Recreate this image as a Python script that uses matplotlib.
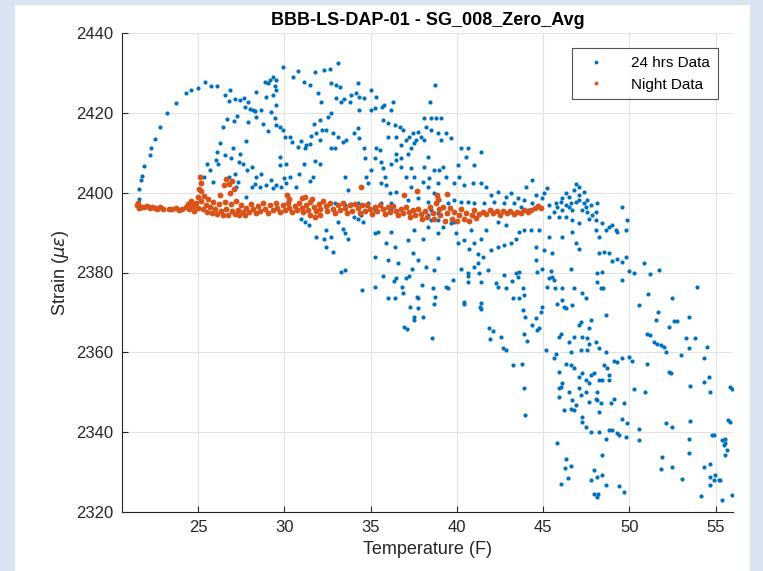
import matplotlib.pyplot as plt
import matplotlib.patches as patches
import numpy as np

plt.rcParams['font.family'] = ['Liberation Sans', 'DejaVu Sans']

# 24 hrs data (temperature F, strain)
day_arc = [
    (21.6, 2398.5), (21.6, 2400.8), (21.7, 2403.2), (21.75, 2404.2), (21.9, 2406.7), (22.2, 2409.4),
    (22.3, 2411.3), (22.5, 2413.4), (22.8, 2416.5), (23.2, 2420.0), (23.7, 2422.4), (24.3, 2424.9),
    (24.6, 2425.7), (25.0, 2426.1), (25.4, 2427.6), (25.75, 2426.8), (26.1, 2426.8),
]
day_upper_left = [
    (26.58, 2424.5), (26.85, 2425.7), (26.81, 2423.0), (27.14, 2423.4), (27.43, 2423.2), (27.66, 2423.6),
    (27.91, 2422.8), (27.72, 2421.4), (28.04, 2420.9), (28.29, 2420.5), (28.68, 2420.7), (28.39, 2418.9),
    (28.78, 2417.2), (29.06, 2415.5), (27.27, 2419.2), (27.08, 2418.0), (26.66, 2418.4), (26.46, 2416.5),
    (26.27, 2412.5), (26.08, 2410.3), (26.04, 2408.2), (25.54, 2407.3), (25.69, 2405.7), (25.35, 2404.0),
    (25.85, 2402.7), (26.19, 2407.3), (26.56, 2409.4), (26.94, 2408.6), (27.04, 2411.1), (27.39, 2407.8),
    (27.46, 2409.8), (27.62, 2407.3), (27.77, 2413.0), (27.85, 2405.8), (28.16, 2406.5), (28.39, 2404.0),
    (28.66, 2404.7), (28.62, 2401.5), (28.97, 2401.9), (29.26, 2403.2), (29.35, 2401.1), (29.55, 2401.9),
    (29.83, 2401.5), (29.97, 2403.6), (30.12, 2402.3), (29.78, 2406.9), (29.74, 2409.0), (30.09, 2407.3),
    (30.32, 2404.0), (30.70, 2401.5), (30.86, 2404.8), (31.13, 2407.3), (31.20, 2411.3), (31.47, 2412.3),
    (31.76, 2408.0), (31.67, 2404.0), (31.51, 2403.0), (32.05, 2407.3), (32.05, 2413.2), (32.20, 2415.7),
    (31.86, 2414.9), (31.72, 2417.2), (32.05, 2418.2), (32.15, 2422.8), (31.97, 2424.9), (32.28, 2430.7),
    (31.78, 2430.3), (31.47, 2427.0), (31.15, 2427.8), (30.82, 2430.6), (30.51, 2428.9), (29.93, 2431.4),
    (29.51, 2428.2), (29.35, 2429.1), (29.2, 2428.2), (28.87, 2427.8), (29.06, 2427.4), (29.45, 2426.6),
    (29.55, 2425.7), (29.35, 2424.5), (29.51, 2422.0), (29.26, 2420.3), (29.49, 2418.6), (29.55, 2416.9),
    (29.74, 2416.5), (29.93, 2415.7), (30.05, 2414.0), (30.32, 2414.0), (30.47, 2412.8), (30.80, 2411.5),
    (30.99, 2413.0), (31.28, 2411.9), (31.57, 2414.2), (28.39, 2425.3), (28.97, 2424.0), (28.2, 2420.7),
    (27.91, 2417.8), (27.2, 2401.5), (27.33, 2402.7), (26.81, 2404.0), (27.14, 2404.8), (27.81, 2399.0),
    (28.16, 2401.5), (28.29, 2402.1), (30.99, 2393.5), (31.18, 2392.7), (31.43, 2391.9), (31.86, 2389.0),
    (32.28, 2388.5),
]
day_upper_mid = [
    (33.11, 2432.6), (32.63, 2430.9), (32.69, 2427.4), (33.01, 2427.0), (33.21, 2426.5), (33.01, 2423.6),
    (33.30, 2422.8), (33.46, 2423.4), (33.79, 2422.8), (33.88, 2424.5), (34.17, 2424.9), (34.27, 2427.4),
    (34.32, 2424.0), (34.61, 2423.6), (34.36, 2420.7), (32.73, 2419.9), (32.53, 2419.0), (32.44, 2415.7),
    (32.82, 2414.9), (33.11, 2414.0), (33.40, 2412.8), (33.59, 2413.2), (32.73, 2411.1), (32.92, 2411.1),
    (34.07, 2414.9), (34.27, 2416.1), (34.36, 2413.6), (34.61, 2411.1), (34.65, 2408.6), (35.04, 2425.7),
    (35.33, 2424.0), (35.04, 2420.7), (35.23, 2421.1), (35.65, 2421.5), (35.77, 2422.0), (36.29, 2422.8),
    (36.19, 2420.7), (35.71, 2418.2), (36.0, 2417.4), (36.39, 2416.9), (36.68, 2416.5), (36.87, 2415.7),
    (36.0, 2414.0), (36.48, 2414.0), (36.77, 2411.9), (37.06, 2413.2), (37.25, 2414.0), (37.45, 2414.9),
    (37.64, 2413.2), (37.35, 2411.1), (37.16, 2409.8), (37.74, 2415.3), (37.93, 2414.0), (38.12, 2413.2),
    (37.54, 2412.4), (38.12, 2418.6), (38.51, 2418.6), (38.79, 2418.6), (39.08, 2418.6), (38.47, 2422.8),
    (38.74, 2427.0), (38.22, 2416.5), (38.51, 2415.7), (38.89, 2414.9), (39.08, 2413.2), (39.37, 2414.9),
    (39.66, 2413.6), (35.33, 2411.1), (35.23, 2408.6), (35.52, 2410.7), (35.62, 2407.8), (35.71, 2406.1),
    (35.81, 2404.0), (36.19, 2407.3), (36.48, 2409.8), (36.48, 2408.2), (36.77, 2408.6), (36.77, 2406.5),
    (37.35, 2406.1), (37.06, 2404.0), (37.54, 2404.0), (38.12, 2406.5), (38.31, 2409.0), (38.41, 2403.6),
    (38.7, 2405.7), (38.99, 2405.7), (39.18, 2406.5), (39.37, 2404.0), (38.89, 2402.3), (38.02, 2402.7),
    (37.35, 2401.5), (38.31, 2401.5), (38.7, 2399.8), (33.50, 2404.0), (33.69, 2400.6), (34.75, 2404.0),
    (34.84, 2402.3), (35.04, 2405.7), (35.62, 2402.3), (35.9, 2401.9), (36.10, 2399.8), (36.48, 2400.2),
    (40.24, 2411.1), (40.63, 2411.1), (41.40, 2410.2), (40.53, 2409.0), (41.01, 2406.9), (40.05, 2406.9),
    (40.14, 2404.0), (39.85, 2402.3), (40.43, 2401.9), (40.91, 2402.3), (41.40, 2402.3), (41.69, 2401.5),
    (41.97, 2399.4), (42.36, 2400.2), (42.84, 2399.0), (43.13, 2399.8), (43.52, 2398.6), (44.0, 2401.5),
    (44.38, 2403.2),
]
day_band = [
    (43.90, 2398.2), (43.71, 2396.5), (43.32, 2397.3), (42.74, 2397.3), (42.17, 2397.7), (41.59, 2397.3),
    (41.01, 2397.3), (40.63, 2397.7), (40.24, 2397.7), (39.85, 2398.2), (39.47, 2397.3), (38.99, 2398.2),
    (38.31, 2397.7), (37.74, 2398.6), (37.16, 2398.2), (36.19, 2397.3), (35.62, 2397.3), (34.84, 2397.3),
    (34.27, 2397.3), (33.88, 2397.1), (33.50, 2396.9), (32.92, 2397.3), (32.53, 2396.9), (38.51, 2395.6),
    (38.89, 2394.8), (38.31, 2394.4), (34.07, 2394.0), (34.46, 2394.4), (35.23, 2395.6), (36.19, 2395.6),
    (41.97, 2395.6), (43.13, 2395.2), (44.1, 2395.6),
]
day_below_band = [
    (34.27, 2393.5), (34.56, 2392.7), (33.11, 2392.7), (33.40, 2391.0), (33.50, 2389.8), (33.69, 2388.5),
    (32.44, 2390.6), (32.73, 2389.0), (35.23, 2389.8), (35.42, 2390.2), (36.19, 2390.2), (35.90, 2387.3),
    (36.39, 2386.4), (37.16, 2388.1), (37.54, 2390.6), (38.02, 2388.5), (38.31, 2391.5), (38.89, 2389.8),
    (39.18, 2391.5), (39.66, 2392.3), (39.95, 2389.8), (40.05, 2387.3), (40.43, 2388.1), (40.72, 2386.0),
    (41.01, 2387.3), (41.2, 2384.7), (41.49, 2383.9), (41.97, 2385.6), (42.36, 2386.4), (42.74, 2386.9),
    (43.13, 2387.3), (43.42, 2388.5), (43.61, 2390.2), (43.90, 2390.6), (42.84, 2391.9), (42.36, 2392.7),
    (41.69, 2390.6), (40.82, 2390.6), (41.40, 2388.5), (38.51, 2393.1), (38.89, 2393.1), (39.85, 2392.7),
    (37.45, 2384.8), (37.74, 2383.1), (32.82, 2385.2), (32.44, 2386.4), (35.23, 2383.9), (36.0, 2383.1),
    (33.50, 2380.6),
]
day_hump = [
    (45.25, 2401.1), (45.06, 2399.8), (44.96, 2398.6), (44.58, 2399.4), (44.38, 2397.3), (44.67, 2396.5),
    (45.35, 2396.9), (45.73, 2397.3), (46.12, 2398.6), (46.31, 2399.8), (46.50, 2399.0), (46.60, 2397.3),
    (46.89, 2397.7), (47.08, 2398.2), (46.89, 2402.2), (47.08, 2401.5), (47.37, 2397.3), (47.56, 2398.2),
    (47.27, 2395.6), (47.56, 2395.2), (47.85, 2394.4), (47.66, 2393.5), (48.04, 2393.1), (48.43, 2392.3),
    (48.81, 2391.5), (49.2, 2390.6), (49.58, 2396.5), (49.87, 2393.1), (49.78, 2390.6), (46.12, 2395.6),
    (45.64, 2395.2), (45.35, 2393.9), (45.92, 2393.9), (46.31, 2393.9), (46.69, 2393.1), (47.08, 2392.3),
    (48.04, 2390.6), (48.24, 2389.0), (48.62, 2390.6), (49.01, 2391.9), (49.30, 2390.2), (46.69, 2390.2),
    (46.12, 2389.0), (45.35, 2389.0), (45.06, 2385.6), (44.58, 2386.4), (45.54, 2384.8), (46.89, 2387.3),
    (47.08, 2386.0), (48.24, 2384.8), (48.53, 2385.2), (48.81, 2384.8), (49.78, 2383.9), (44.29, 2390.6),
    (44.77, 2390.6), (46.50, 2396.5), (45.83, 2396.5), (48.04, 2395.2), (48.14, 2397.3), (46.02, 2397.7),
    (46.31, 2396.9), (46.69, 2395.6), (47.47, 2396.5), (47.75, 2396.9), (47.08, 2399.4), (46.79, 2400.6),
    (47.37, 2400.2),
]
day_lower_mid = [
    (33.30, 2380.2), (34.50, 2375.7), (35.23, 2376.4), (35.71, 2379.0), (36.0, 2373.5), (36.39, 2373.7),
    (36.35, 2377.8), (36.48, 2378.5), (36.58, 2382.3), (36.81, 2376.4), (36.87, 2374.8), (36.96, 2366.4),
    (37.12, 2365.8), (37.06, 2378.5), (37.25, 2379.2), (37.39, 2381.0), (37.31, 2371.4), (37.54, 2368.9),
    (37.54, 2368.2), (37.74, 2371.0), (37.70, 2373.9), (37.77, 2373.5), (37.99, 2376.8), (38.02, 2368.9),
    (38.22, 2381.4), (38.54, 2363.5), (38.60, 2376.2), (38.70, 2380.6), (38.74, 2373.9), (38.70, 2372.0),
    (38.93, 2383.7), (39.37, 2376.4), (39.47, 2376.2), (39.76, 2378.1), (40.24, 2381.0), (40.39, 2372.0),
    (40.43, 2372.5), (40.63, 2377.7), (40.63, 2379.0), (40.63, 2380.0), (41.01, 2381.4), (41.2, 2382.3),
    (41.30, 2379.8), (41.40, 2377.5), (41.36, 2371.4), (41.40, 2370.8), (41.40, 2372.3), (41.78, 2380.6),
    (41.88, 2366.0), (42.07, 2365.3), (41.92, 2363.3), (42.26, 2377.3), (42.36, 2376.4), (42.55, 2363.9),
    (42.65, 2361.1), (42.84, 2360.5), (42.74, 2379.3), (42.84, 2376.0), (43.17, 2377.8), (43.42, 2379.8),
    (43.52, 2378.9), (43.61, 2380.2), (43.61, 2373.5), (43.26, 2373.5), (43.23, 2356.8), (43.77, 2357.0),
    (43.90, 2351.1), (43.96, 2344.3), (43.84, 2370.6), (43.96, 2368.9), (43.90, 2364.7), (44.05, 2362.8),
    (43.86, 2376.0), (43.90, 2374.3),
]
day_lower_right = [
    (44.58, 2383.1), (44.67, 2380.2), (44.96, 2380.9), (45.44, 2380.4), (45.54, 2378.9), (45.35, 2378.5),
    (45.64, 2378.1), (45.25, 2376.4), (45.69, 2376.0), (46.08, 2376.0), (46.60, 2381.0), (46.79, 2376.0),
    (45.83, 2372.0), (46.12, 2373.1), (46.21, 2371.4), (46.31, 2371.0), (46.69, 2371.8), (47.27, 2374.8),
    (47.47, 2373.5), (44.96, 2371.4), (44.86, 2370.2), (44.58, 2368.5), (44.38, 2366.8), (44.77, 2366.0),
    (44.67, 2365.6), (46.02, 2364.7), (45.92, 2363.9), (46.50, 2362.6), (46.79, 2363.9), (47.08, 2366.8),
    (47.18, 2367.7), (47.75, 2368.1), (47.66, 2366.0), (47.27, 2363.9), (47.56, 2363.5), (47.66, 2362.0),
    (48.04, 2362.5), (48.24, 2361.0), (48.62, 2360.1), (48.62, 2369.3), (47.56, 2360.5), (47.18, 2360.5),
    (46.60, 2360.1), (45.73, 2359.7), (45.64, 2358.5), (45.15, 2360.5), (46.31, 2357.2), (46.60, 2356.8),
    (46.79, 2356.0), (45.92, 2355.0), (47.08, 2353.9), (47.27, 2354.7), (47.47, 2353.0), (47.66, 2352.2),
    (47.75, 2354.3), (47.95, 2354.7), (48.24, 2353.0), (48.43, 2353.0), (48.81, 2354.3), (48.81, 2353.0),
    (48.53, 2356.8), (48.72, 2356.0), (49.10, 2357.8), (46.12, 2352.2), (46.02, 2351.4), (45.92, 2351.0),
    (45.92, 2348.9), (46.50, 2350.1), (46.69, 2348.0), (46.89, 2346.8), (46.79, 2345.5), (46.60, 2345.8),
    (46.21, 2345.5), (47.08, 2351.0), (47.18, 2349.3), (47.47, 2350.1), (47.66, 2347.6), (48.04, 2348.4),
    (48.14, 2350.1), (48.14, 2348.0), (48.33, 2347.2), (48.24, 2345.1), (48.91, 2347.2), (49.10, 2348.4),
    (49.68, 2347.2), (49.58, 2343.4), (49.87, 2342.2), (47.27, 2343.9), (47.27, 2342.6), (47.47, 2341.3),
    (47.75, 2340.1), (48.24, 2340.1), (48.81, 2340.5), (49.01, 2340.5), (49.30, 2339.7), (49.39, 2339.3),
    (49.78, 2338.8), (48.62, 2338.4), (50.55, 2340.9), (50.55, 2338.0), (49.97, 2358.9), (50.16, 2357.8),
    (50.26, 2350.9), (50.93, 2350.1), (51.03, 2357.2), (52.09, 2342.2), (52.48, 2341.3), (53.53, 2342.8),
    (54.79, 2339.4), (55.37, 2338.0), (55.52, 2337.4), (55.56, 2338.4), (55.65, 2335.5), (55.56, 2334.4),
    (55.71, 2343.0), (55.81, 2342.6), (55.85, 2351.4), (55.94, 2350.9), (54.69, 2350.1), (53.53, 2351.5),
    (54.31, 2352.6), (54.60, 2353.9), (54.31, 2358.5), (54.50, 2361.4), (53.82, 2363.5), (53.25, 2363.5),
    (53.44, 2361.0), (52.96, 2359.3), (52.28, 2355.1), (52.38, 2354.7), (52.09, 2360.1), (51.99, 2361.4),
    (51.80, 2361.8), (51.61, 2362.2), (51.42, 2362.6), (51.22, 2364.3), (51.03, 2364.7), (51.51, 2368.1),
    (51.67, 2370.0), (52.28, 2366.4), (52.57, 2367.8), (52.76, 2367.8), (53.44, 2368.9), (53.92, 2376.4),
    (52.44, 2373.7), (51.09, 2374.5), (50.55, 2371.8), (49.97, 2380.4), (50.26, 2380.0), (50.84, 2382.3),
    (51.22, 2379.5), (51.70, 2380.6), (49.58, 2378.1), (49.55, 2382.7), (49.30, 2383.4), (49.01, 2382.9),
    (48.33, 2376.0), (48.47, 2376.0), (48.14, 2377.7), (48.43, 2380.2), (48.14, 2379.8), (49.30, 2357.6),
    (49.58, 2358.5), (45.79, 2337.3), (46.31, 2333.2), (46.27, 2330.9), (46.60, 2331.6), (46.46, 2328.6),
    (46.02, 2326.9), (47.95, 2330.5), (47.75, 2328.0), (48.14, 2328.8), (48.39, 2329.2), (48.39, 2334.2),
    (48.62, 2326.7), (47.95, 2324.4), (48.2, 2324.4), (48.14, 2323.8), (49.39, 2326.6), (49.68, 2324.9),
    (51.90, 2333.8), (51.80, 2330.7), (52.48, 2331.3), (53.06, 2328.2), (53.44, 2338.2), (53.44, 2334.9),
    (54.12, 2324.0), (54.31, 2331.3), (54.69, 2331.9), (54.69, 2328.8), (54.69, 2326.7), (54.88, 2328.0),
    (54.98, 2329.2), (55.17, 2328.0), (55.27, 2328.0), (55.37, 2323.0), (55.94, 2324.2), (54.88, 2339.3),
    (55.46, 2336.8),
]

# Night data
night_left = [
    (21.45, 2396.8), (21.55, 2397.3), (21.6, 2396.2), (21.75, 2396.5), (21.9, 2396.3), (22.05, 2396.6),
    (22.2, 2396.1), (22.35, 2396.4), (22.5, 2396.2), (22.65, 2396.0), (22.8, 2396.3), (22.95, 2395.9),
    (23.3, 2395.8), (23.5, 2395.9), (23.7, 2396.1), (23.9, 2395.7), (24.1, 2395.9), (24.3, 2396.3),
]
night_lumps = [
    (24.4, 2397.2), (24.5, 2396.0), (24.6, 2398.0), (24.7, 2396.6), (24.8, 2395.4), (24.9, 2397.4),
    (25.0, 2399.0), (25.0, 2396.2), (25.05, 2401.0), (25.1, 2403.9), (25.15, 2402.5), (25.2, 2400.5),
    (25.2, 2397.8), (25.3, 2395.8), (25.35, 2399.2), (25.45, 2397.0), (25.5, 2395.2), (25.6, 2398.3),
    (25.7, 2396.4), (25.8, 2394.9), (25.9, 2397.6), (26.0, 2395.8), (26.1, 2394.6), (26.2, 2397.2),
    (26.3, 2399.5), (26.35, 2395.5), (26.45, 2394.5), (26.5, 2401.8), (26.55, 2397.6), (26.6, 2403.4),
    (26.65, 2396.0), (26.75, 2394.3), (26.8, 2402.2), (26.85, 2399.8), (26.9, 2397.2), (27.0, 2403.0),
    (27.0, 2395.3), (27.1, 2400.8), (27.15, 2394.6), (27.2, 2397.8), (27.3, 2395.7), (27.4, 2394.4),
    (27.5, 2396.9), (27.6, 2395.2), (27.7, 2394.5),
]
night_mid = [
    (27.8, 2396.2), (27.95, 2395.1), (28.1, 2397.2), (28.2, 2395.8), (28.35, 2394.9), (28.5, 2396.7),
    (28.6, 2395.4), (28.75, 2397.4), (28.9, 2396.0), (29.05, 2395.0), (29.2, 2396.9), (29.35, 2395.6),
    (29.5, 2397.5), (29.6, 2396.2), (29.75, 2395.2), (29.9, 2396.8), (30.05, 2395.7), (30.2, 2397.3),
    (30.3, 2396.1), (30.45, 2395.2), (30.6, 2396.7), (30.75, 2395.6), (30.85, 2397.5), (31.0, 2398.6),
    (31.0, 2396.2), (31.1, 2395.1), (31.25, 2396.9), (31.4, 2395.7), (31.5, 2397.6), (31.6, 2398.3),
    (31.7, 2396.3), (31.85, 2395.3), (32.0, 2397.1), (32.1, 2396.0), (32.25, 2397.8), (30.15, 2399.3),
    (30.3, 2398.5), (31.2, 2398.9), (31.5, 2394.3), (31.8, 2394.0), (32.1, 2394.5),
    (32.4, 2396.6), (32.5, 2395.3), (32.65, 2397.3), (32.8, 2396.0), (32.95, 2394.9), (33.1, 2396.8),
    (33.25, 2395.6), (33.4, 2397.4), (33.5, 2396.2), (33.65, 2395.0), (33.8, 2396.8), (33.95, 2395.5),
    (34.1, 2397.2), (34.25, 2396.1), (34.4, 2394.9), (34.5, 2396.8), (34.65, 2395.5), (34.8, 2397.0),
    (34.95, 2395.9), (35.1, 2394.7), (35.25, 2396.5), (35.4, 2395.3), (35.55, 2396.9), (35.7, 2395.8),
    (35.85, 2394.6), (36.0, 2396.4), (36.15, 2395.1), (36.3, 2396.7), (36.45, 2395.4), (36.6, 2394.3),
    (36.75, 2396.0), (36.9, 2394.8), (37.05, 2396.3), (37.2, 2395.1), (37.3, 2393.9), (37.45, 2395.7),
    (37.6, 2394.4), (37.75, 2396.0), (37.9, 2394.7), (38.0, 2393.5),
]
night_right = [
    (38.15, 2395.4), (38.3, 2394.0), (38.45, 2396.5), (38.6, 2395.0), (38.7, 2393.4), (38.8, 2397.5),
    (38.85, 2399.5), (38.9, 2398.3), (38.95, 2395.8), (39.05, 2394.3), (39.2, 2396.3), (39.3, 2393.0),
    (39.45, 2394.9), (39.6, 2396.2), (39.7, 2393.5), (39.85, 2395.1), (40.0, 2392.8), (40.1, 2394.3),
    (40.25, 2395.8), (40.4, 2393.4), (40.55, 2394.8), (40.7, 2392.9), (40.85, 2394.4), (41.0, 2395.6),
    (41.1, 2393.6), (41.3, 2394.7), (41.5, 2395.2), (41.7, 2394.6), (41.9, 2395.6), (42.1, 2394.9),
    (42.3, 2395.3), (42.5, 2394.5), (42.7, 2395.4), (42.9, 2394.8), (43.1, 2395.5), (43.3, 2394.7),
    (43.5, 2395.2), (43.7, 2394.8), (43.9, 2395.6), (44.1, 2395.1), (44.3, 2395.7), (44.5, 2396.2),
    (44.7, 2396.6), (44.85, 2396.1),
]
night_outliers = [(34.42, 2401.3), (36.96, 2399.4), (37.7, 2400.4), (39.43, 2399.6)]

day = np.array(day_arc + day_upper_left + day_upper_mid + day_band + day_below_band
               + day_hump + day_lower_mid + day_lower_right)
night = np.array(night_left + night_lumps + night_mid + night_right + night_outliers)

fig = plt.figure(figsize=(7.63, 5.71), dpi=100, facecolor='#dae3f0')
# white slide panel behind the axes
panel = patches.Rectangle((15 / 763, 0), 735 / 763, 566 / 571, transform=fig.transFigure,
                          facecolor='white', edgecolor='none', zorder=-10)
fig.add_artist(panel)
ax = fig.add_axes([122 / 763, 59 / 571, 611 / 763, 479 / 571])
ax.set_facecolor('white')

ax.plot(day[:, 0], day[:, 1], 'o', color='#0072BD', ms=3.0, mew=0, label='24 hrs Data')
ax.plot(night[:, 0], night[:, 1], 'o', color='#D95319', ms=4.2, mew=0, label='Night Data')

ax.set_xlim(20.6, 56)
ax.set_ylim(2320, 2440)
ax.set_xticks([25, 30, 35, 40, 45, 50, 55])
ax.set_yticks([2320, 2340, 2360, 2380, 2400, 2420, 2440])
ax.grid(True, color='#e3e3e3', linewidth=0.8)
ax.set_axisbelow(True)
for side in ['top', 'right']:
    ax.spines[side].set_visible(False)
for side in ['left', 'bottom']:
    ax.spines[side].set_color('#262626')
    ax.spines[side].set_linewidth(0.8)
ax.tick_params(direction='in', length=4, width=0.8, colors='#262626', labelsize=12, pad=6)

ax.set_title('BBB-LS-DAP-01 - SG_008_Zero_Avg', fontsize=13, fontweight='bold', pad=6)
ax.set_xlabel('Temperature (F)', fontsize=13, color='#262626')
ax.set_ylabel(r'Strain ($\mu\epsilon$)', fontsize=13, color='#262626')

leg = ax.legend(loc='upper right', fontsize=11, frameon=True, fancybox=False,
                edgecolor='#262626', borderaxespad=1.0, handlelength=2.2, handletextpad=1.2,
                borderpad=0.5)
leg.get_frame().set_linewidth(0.8)
for h in leg.legend_handles:
    h.set_markersize(2.8)

fig.savefig('out.png', dpi=100, facecolor=fig.get_facecolor())
